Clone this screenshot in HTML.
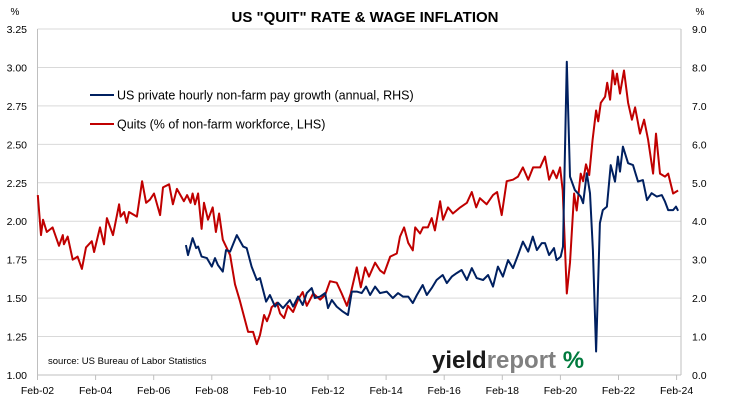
<!DOCTYPE html>
<html><head><meta charset="utf-8"><style>
body{margin:0;background:#fff;}
svg{display:block;font-family:"Liberation Sans",Calibri,sans-serif;}
</style></head><body>
<svg id="chart" width="730" height="400" viewBox="0 0 730 400">
<text x="365" y="22" text-anchor="middle" font-size="15" font-weight="bold" fill="#000">US "QUIT" RATE &amp; WAGE INFLATION</text>
<text x="15" y="15" text-anchor="middle" font-size="10">%</text>
<text x="700" y="15" text-anchor="middle" font-size="10">%</text>
<g id="grid"></g><g id="axes"></g><g id="series"></g>
<g>
<line x1="90" y1="95" x2="114" y2="95" stroke="#002060" stroke-width="2"/>
<text x="117" y="99.5" font-size="12.5">US private hourly non-farm pay growth (annual, RHS)</text>
<line x1="90" y1="124" x2="114" y2="124" stroke="#C00000" stroke-width="2"/>
<text x="117" y="128.5" font-size="12.5">Quits (% of non-farm workforce, LHS)</text>
</g>
<text x="48" y="364" font-size="9.5">source: US Bureau of Labor Statistics</text>
<text x="432" y="368" font-size="24" font-weight="bold"><tspan fill="#1a1a1a">yield</tspan><tspan fill="#808080">report </tspan><tspan fill="#007a3d">%</tspan></text>
</svg>
<script>
const leftTicks=["1.00","1.25","1.50","1.75","2.00","2.25","2.50","2.75","3.00","3.25"];
const rightTicks=["0.0","1.0","2.0","3.0","4.0","5.0","6.0","7.0","8.0","9.0"];
const xLabels=["Feb-02","Feb-04","Feb-06","Feb-08","Feb-10","Feb-12","Feb-14","Feb-16","Feb-18","Feb-20","Feb-22","Feb-24"];
const xLabelYears=[2002.08,2004.08,2006.08,2008.08,2010.08,2012.08,2014.08,2016.08,2018.08,2020.08,2022.08,2024.08];
const quitsDates=[2002.09,2002.20,2002.27,2002.40,2002.60,2002.82,2002.95,2002.99,2003.12,2003.29,2003.46,2003.61,2003.75,2003.95,2004.03,2004.23,2004.37,2004.47,2004.68,2004.89,2004.94,2005.06,2005.15,2005.23,2005.50,2005.68,2005.82,2005.95,2006.09,2006.30,2006.40,2006.61,2006.74,2006.88,2007.12,2007.23,2007.35,2007.42,2007.50,2007.61,2007.73,2007.81,2007.95,2008.11,2008.22,2008.33,2008.46,2008.71,2008.88,2009.05,2009.33,2009.50,2009.63,2009.74,2009.88,2009.98,2010.08,2010.14,2010.32,2010.43,2010.57,2010.70,2010.88,2011.05,2011.21,2011.35,2011.57,2011.81,2011.98,2012.15,2012.38,2012.55,2012.73,2012.86,2013.07,2013.21,2013.36,2013.49,2013.70,2013.87,2014.01,2014.22,2014.45,2014.56,2014.70,2014.84,2015.00,2015.08,2015.25,2015.35,2015.52,2015.65,2015.76,2015.94,2016.04,2016.21,2016.38,2016.63,2016.86,2017.03,2017.18,2017.31,2017.54,2017.76,2017.90,2018.06,2018.23,2018.45,2018.62,2018.79,2018.97,2019.14,2019.38,2019.55,2019.69,2019.83,2019.95,2020.07,2020.16,2020.30,2020.41,2020.55,2020.64,2020.78,2020.86,2020.96,2021.07,2021.19,2021.31,2021.38,2021.47,2021.62,2021.69,2021.79,2021.88,2021.96,2022.03,2022.13,2022.27,2022.41,2022.54,2022.65,2022.82,2022.96,2023.10,2023.27,2023.37,2023.51,2023.68,2023.79,2023.96,2024.13];
const quitsValues=[2.17,1.91,2.01,1.93,1.96,1.84,1.91,1.85,1.90,1.75,1.77,1.69,1.83,1.87,1.80,1.96,1.85,2.02,1.91,2.11,2.03,2.06,1.99,2.06,2.03,2.26,2.12,2.14,2.18,2.04,2.22,2.24,2.11,2.21,2.13,2.17,2.12,2.18,2.11,2.18,1.95,2.12,2.01,2.09,1.93,2.05,1.88,1.78,1.59,1.48,1.28,1.28,1.20,1.26,1.39,1.35,1.40,1.44,1.47,1.40,1.37,1.45,1.41,1.49,1.54,1.45,1.53,1.49,1.52,1.61,1.60,1.53,1.45,1.53,1.70,1.57,1.70,1.64,1.73,1.68,1.66,1.77,1.79,1.90,1.96,1.86,1.81,1.96,1.92,1.96,1.96,2.02,1.94,2.13,2.01,2.09,2.05,2.09,2.12,2.19,2.09,2.15,2.11,2.17,2.19,2.04,2.26,2.27,2.29,2.35,2.27,2.35,2.35,2.42,2.27,2.33,2.28,2.35,2.20,1.53,1.73,2.18,2.07,2.31,2.26,2.37,2.30,2.53,2.72,2.65,2.77,2.81,2.90,2.79,2.98,2.89,2.96,2.83,2.98,2.77,2.66,2.74,2.57,2.66,2.53,2.31,2.57,2.31,2.29,2.31,2.18,2.20];
const wageDates=[2007.19,2007.26,2007.42,2007.54,2007.61,2007.73,2007.91,2008.08,2008.19,2008.29,2008.46,2008.57,2008.71,2008.94,2009.16,2009.28,2009.45,2009.63,2009.74,2009.95,2010.08,2010.26,2010.36,2010.53,2010.77,2010.88,2011.05,2011.21,2011.35,2011.52,2011.63,2011.81,2011.98,2012.08,2012.21,2012.38,2012.59,2012.77,2012.90,2013.07,2013.24,2013.39,2013.53,2013.70,2013.87,2014.10,2014.31,2014.49,2014.66,2014.84,2015.00,2015.14,2015.34,2015.48,2015.65,2015.82,2016.03,2016.17,2016.34,2016.51,2016.68,2016.86,2017.03,2017.20,2017.42,2017.59,2017.76,2017.93,2018.10,2018.28,2018.45,2018.62,2018.79,2018.97,2019.13,2019.27,2019.44,2019.55,2019.69,2019.86,2019.95,2020.09,2020.17,2020.30,2020.41,2020.58,2020.78,2020.86,2020.99,2021.10,2021.20,2021.31,2021.44,2021.54,2021.68,2021.81,2021.96,2022.06,2022.13,2022.23,2022.41,2022.58,2022.75,2022.92,2023.06,2023.22,2023.40,2023.57,2023.68,2023.79,2023.96,2024.06,2024.13];
const wageValues=[3.38,3.12,3.56,3.30,3.34,3.08,3.04,2.82,3.04,2.86,2.69,3.25,3.21,3.64,3.34,3.30,2.82,2.47,2.52,1.91,2.08,1.78,1.88,1.74,1.95,1.78,2.04,1.82,2.13,2.26,2.00,2.04,2.13,1.74,1.95,1.78,1.65,1.56,2.17,2.17,2.13,2.30,2.08,2.30,2.13,2.17,2.00,2.13,2.04,2.04,1.87,2.08,2.34,2.08,2.26,2.47,2.60,2.39,2.56,2.65,2.73,2.47,2.78,2.52,2.47,2.60,2.30,2.82,2.56,2.99,2.78,3.12,3.47,3.21,3.60,3.25,3.43,3.43,3.12,3.30,2.99,3.08,3.34,8.15,5.16,4.81,4.64,4.47,5.25,4.73,3.25,0.61,3.95,4.29,4.38,5.46,5.03,5.68,5.29,5.94,5.51,5.46,5.03,5.07,4.55,4.73,4.64,4.68,4.51,4.29,4.29,4.38,4.27];

const NS="http://www.w3.org/2000/svg";
const L=37.5,R=681,T=29,B=375;
const X0=2002.08,PXY=29.05;
function xS(yr){return L+(yr-X0)*PXY;}
function yL(v){return B-(v-1)/2.25*(B-T);}
function yR(v){return B-v/9*(B-T);}
function mk(tag,attrs,parent){const e=document.createElementNS(NS,tag);for(const k in attrs)e.setAttribute(k,attrs[k]);parent.appendChild(e);return e;}
const grid=document.getElementById('grid'),axes=document.getElementById('axes'),ser=document.getElementById('series');
leftTicks.forEach((t,i)=>{
  const y=yL(parseFloat(t));
  if(i>0){const g=mk('line',{x1:L,x2:R,y1:y,y2:y,stroke:'#d9d9d9','stroke-width':1},grid);
  
  }
  const lt=mk('text',{x:27,y:y+4,'text-anchor':'end','font-size':10.5},axes);lt.textContent=t;
  
  
});
rightTicks.forEach(t=>{
  const y=yR(parseFloat(t));
  const rt=mk('text',{x:692,y:y+4,'font-size':10.5},axes);rt.textContent=t;
  
  
});
const la=mk('line',{x1:L,x2:L,y1:T,y2:B,stroke:'#bfbfbf'},axes);


const ra=mk('line',{x1:R,x2:R,y1:T,y2:B,stroke:'#bfbfbf'},axes);


const ba=mk('line',{x1:L,x2:R,y1:B,y2:B,stroke:'#bfbfbf'},axes);


xLabels.forEach((t,i)=>{
  const x=xS(xLabelYears[i]);
  const tk=mk('line',{x1:x,x2:x,y1:B,y2:B+5,stroke:'#bfbfbf'},axes);
  
  
  const tx=mk('text',{x:x,y:394,'text-anchor':'middle','font-size':10.5},axes);tx.textContent=t;
  
  
});
function path(dates,vals,ys){return dates.map((d,i)=>(i?'L':'M')+xS(d).toFixed(1)+' '+ys(vals[i]).toFixed(1)).join(' ');}
const q=mk('path',{d:path(quitsDates,quitsValues,yL),fill:'none',stroke:'#C00000','stroke-width':2,'stroke-linejoin':'round'},ser);


const w=mk('path',{d:path(wageDates,wageValues,yR),fill:'none',stroke:'#002060','stroke-width':2,'stroke-linejoin':'round'},ser);


</script>
</body></html>
